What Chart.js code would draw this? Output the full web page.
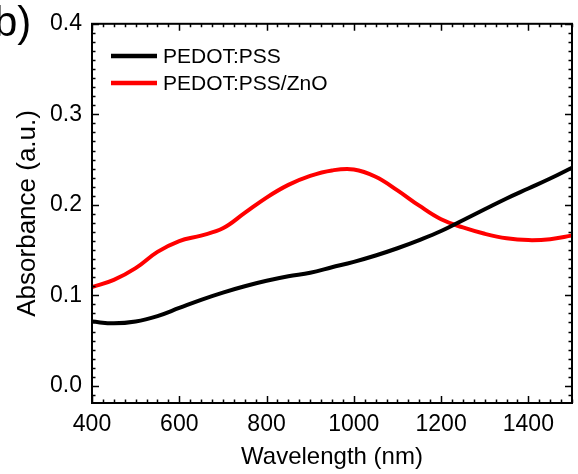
<!DOCTYPE html>
<html>
<head>
<meta charset="utf-8">
<script src="https://cdn.jsdelivr.net/npm/chart.js@4/dist/chart.umd.min.js"></script>
<style>
  html, body { margin: 0; padding: 0; background: #fff; }
  #wrap { width: 578px; height: 474px; position: relative; }
</style>
</head>
<body>
<div id="wrap"><canvas id="chartAbs"></canvas></div>
<script>
// longitudes de onda (nm) y absorbancias
const wavelength = [400, 450, 500, 550, 600, 650, 700, 750, 800, 850, 900, 950, 1000,
  1050, 1100, 1150, 1200, 1250, 1300, 1350, 1400, 1450, 1500];
const pedotPss = [0.071, 0.069, 0.071, 0.077, 0.086, 0.095, 0.103, 0.110, 0.116, 0.121, 0.125, 0.131, 0.137,
  0.144, 0.152, 0.161, 0.171, 0.183, 0.195, 0.207, 0.218, 0.229, 0.241];
const pedotPssZno = [0.109, 0.117, 0.130, 0.148, 0.160, 0.166, 0.174, 0.191, 0.208, 0.222, 0.232, 0.238, 0.239,
  0.231, 0.216, 0.199, 0.184, 0.175, 0.168, 0.163, 0.161, 0.162, 0.166];
const xTicks = [400, 600, 800, 1000, 1200, 1400];
const yTicks = [0.0, 0.1, 0.2, 0.3, 0.4];
const seriesNames = ['PEDOT:PSS', 'PEDOT:PSS/ZnO'];

const FONT = 'Liberation Sans, Arial, sans-serif';

const toXY = arr => arr.map((v, i) => ({ x: wavelength[i], y: v }));

// ticks hacia dentro en los 4 lados + marco + leyenda + etiqueta "b)"
const framePlugin = {
  id: 'frame',
  afterDraw(chart) {
    const { ctx, chartArea: a, scales: { x, y } } = chart;
    ctx.save();
    ctx.strokeStyle = '#000';
    ctx.lineWidth = 1.5;
    for (let v = 400; v <= 1500; v += 25) {
      const px = Math.round(x.getPixelForValue(v)) + 0.5;
      const len = v % 200 === 0 ? 7 : 3.5;
      ctx.beginPath();
      ctx.moveTo(px, a.bottom); ctx.lineTo(px, a.bottom - len);
      ctx.moveTo(px, a.top); ctx.lineTo(px, a.top + len);
      ctx.stroke();
    }
    for (let k = -1; k <= 40; k++) {
      const v = k / 100;
      const py = Math.round(y.getPixelForValue(v)) + 0.5;
      if (py > a.bottom || py < a.top) continue;
      const len = k % 10 === 0 ? 7 : 3.5;
      ctx.beginPath();
      ctx.moveTo(a.left, py); ctx.lineTo(a.left + len, py);
      ctx.moveTo(a.right, py); ctx.lineTo(a.right - len, py);
      ctx.stroke();
    }
    ctx.lineWidth = 2;
    ctx.strokeRect(a.left, a.top, a.right - a.left, a.bottom - a.top);

    // leyenda
    ctx.font = '21px ' + FONT;
    ctx.textBaseline = 'middle';
    chart.data.datasets.forEach((ds, i) => {
      const ly = 56 + i * 27;
      ctx.strokeStyle = ds.borderColor;
      ctx.lineWidth = 4.5;
      ctx.beginPath();
      ctx.moveTo(111, ly); ctx.lineTo(157, ly);
      ctx.stroke();
      ctx.fillStyle = '#000';
      ctx.fillText(ds.label, 163, ly + 1);
    });

    ctx.font = '42px ' + FONT;
    ctx.textBaseline = 'alphabetic';
    ctx.fillText('b)', -6, 36);
    ctx.restore();
  }
};

new Chart(document.getElementById('chartAbs'), {
  type: 'line',
  data: {
    datasets: [
      { label: seriesNames[0], data: toXY(pedotPss), borderColor: '#000000', borderWidth: 4, pointRadius: 0, tension: 0.4, fill: false },
      { label: seriesNames[1], data: toXY(pedotPssZno), borderColor: '#ff0000', borderWidth: 4, pointRadius: 0, tension: 0.4, fill: false }
    ]
  },
  options: {
    responsive: true,
    maintainAspectRatio: false,
    animation: false,
    layout: { padding: { left: 0, right: 6, top: 23, bottom: 0 } },
    plugins: { legend: { display: false }, tooltip: { enabled: false } },
    scales: {
      x: {
        type: 'linear', min: 400, max: 1500,
        grid: { display: false, drawTicks: false },
        border: { display: false },
        afterBuildTicks: s => { s.ticks = xTicks.map(v => ({ value: v })); },
        afterFit: s => { s.height = 71; },
        ticks: { color: '#000', font: { family: FONT, size: 23 }, padding: 8, maxRotation: 0, callback: v => String(v) },
        title: { display: true, text: 'Wavelength (nm)', color: '#000', font: { family: FONT, size: 24 }, padding: { top: 0, bottom: 2 } }
      },
      y: {
        min: -0.019, max: 0.4,
        grid: { display: false, drawTicks: false },
        border: { display: false },
        afterBuildTicks: s => { s.ticks = yTicks.map(v => ({ value: v })); },
        afterFit: s => { s.width = 92; },
        ticks: { color: '#000', font: { family: FONT, size: 23 }, padding: 10, callback: v => v.toFixed(1) },
        title: { display: true, text: 'Absorbance (a.u.)', color: '#000', font: { family: FONT, size: 26 }, padding: { top: 12, bottom: 0 } }
      }
    }
  },
  plugins: [framePlugin]
});
</script>
</body>
</html>
